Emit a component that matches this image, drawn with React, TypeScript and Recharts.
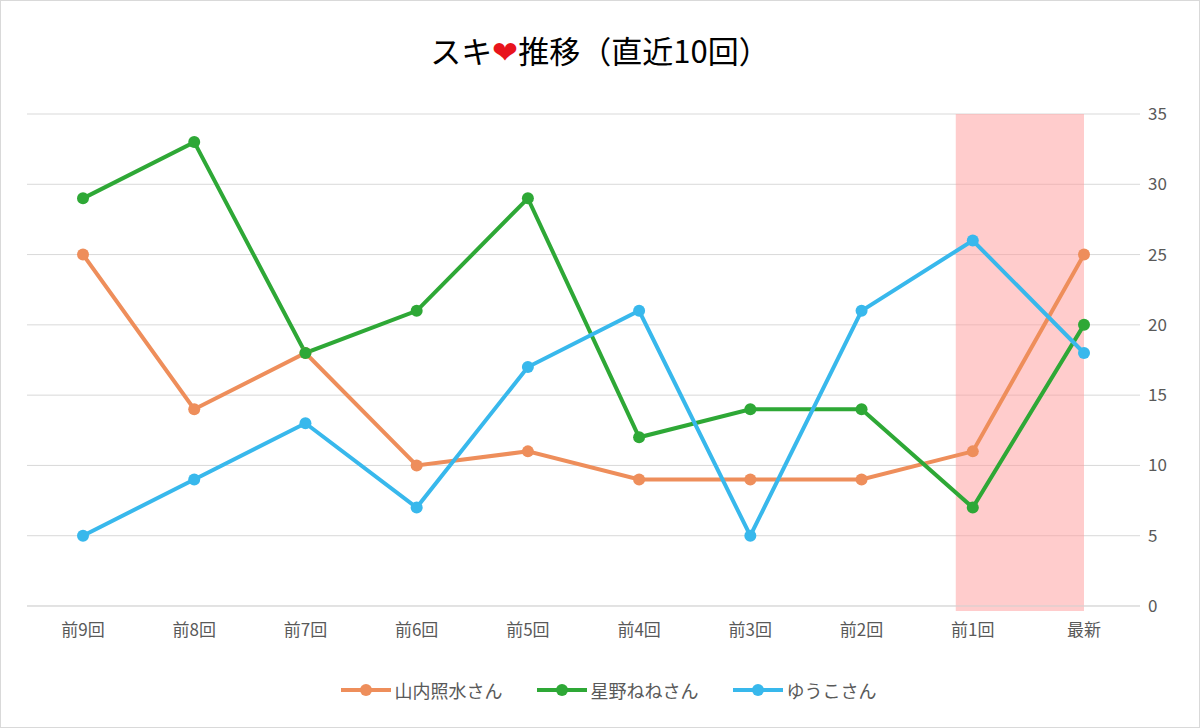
import { LineChart, Line, XAxis, YAxis, CartesianGrid, Legend, ReferenceArea } from 'recharts';

const categories = ['前9回', '前8回', '前7回', '前6回', '前5回', '前4回', '前3回', '前2回', '前1回', '最新'];
const yamauchi = [25, 14, 18, 10, 11, 9, 9, 9, 11, 25];
const hoshino = [29, 33, 18, 21, 29, 12, 14, 14, 7, 20];
const yuko = [5, 9, 13, 7, 17, 21, 5, 21, 26, 18];
const yTicks = [0, 5, 10, 15, 20, 25, 30, 35];

const series = [
  { key: 'a', name: '山内照水さん', color: '#EE8E5B', values: yamauchi },
  { key: 'b', name: '星野ねねさん', color: '#2EA836', values: hoshino },
  { key: 'c', name: 'ゆうこさん', color: '#38B8EC', values: yuko },
];

const data = categories.map((c, i) => ({
  cat: c,
  a: yamauchi[i],
  b: hoshino[i],
  c: yuko[i],
}));

const font = '"Noto Sans CJK JP", "Noto Sans", sans-serif';

function LegendContent() {
  return (
    <div style={{ display: 'flex', justifyContent: 'center', gap: 34, fontFamily: font, fontSize: 18, color: '#595959' }}>
      {series.map((s) => (
        <div key={s.key} style={{ display: 'flex', alignItems: 'center' }}>
          <svg width={50} height={14} style={{ marginRight: 4 }}>
            <line x1={0} y1={7} x2={50} y2={7} stroke={s.color} strokeWidth={4} />
            <circle cx={25} cy={7} r={6} fill={s.color} />
          </svg>
          {s.name}
        </div>
      ))}
    </div>
  );
}

function Band(props: any) {
  const { x, y, width, height } = props;
  return <rect x={x - 17} y={y} width={width + 17} height={height + 5} fill="#FF9999" fillOpacity={0.5} />;
}

export default function App() {
  return (
    <div style={{ position: 'absolute', left: 0, top: 0, width: 1198, height: 726, border: '1px solid #d9d9d9', background: '#fff', fontFamily: font }}>
      <div style={{ position: 'absolute', top: 26, width: '100%', textAlign: 'center', fontSize: 31, color: '#000' }}>
        スキ<span style={{ color: '#e8141c' }}>❤</span>推移（直近10回）
      </div>
      <LineChart width={1198} height={726} data={data} margin={{ top: 113, right: 9, bottom: 62, left: 26 }}>
        <CartesianGrid vertical={false} stroke="#d9d9d9" strokeWidth={1} />
        <XAxis dataKey="cat" height={35} padding={{ left: 56, right: 56 }} tickLine={false} stroke="#d9d9d9" tick={{ fill: '#595959', fontSize: 17, fontFamily: font }} tickMargin={12} />
        <YAxis orientation="right" domain={[0, 35]} ticks={yTicks} width={50} axisLine={false} tickLine={false} tick={{ fill: '#595959', fontSize: 17, fontFamily: font }} />
        <ReferenceArea x1="前1回" x2="最新" y1={0} y2={35} shape={Band} ifOverflow="visible" />
        {series.map((s) => (
          <Line key={s.key} dataKey={s.key} name={s.name} stroke={s.color} strokeWidth={4} dot={{ r: 6, fill: s.color, stroke: s.color, strokeWidth: 0 }} isAnimationActive={false} />
        ))}
        <Legend verticalAlign="bottom" height={24} wrapperStyle={{ bottom: 26 }} content={LegendContent} />
      </LineChart>
    </div>
  );
}
